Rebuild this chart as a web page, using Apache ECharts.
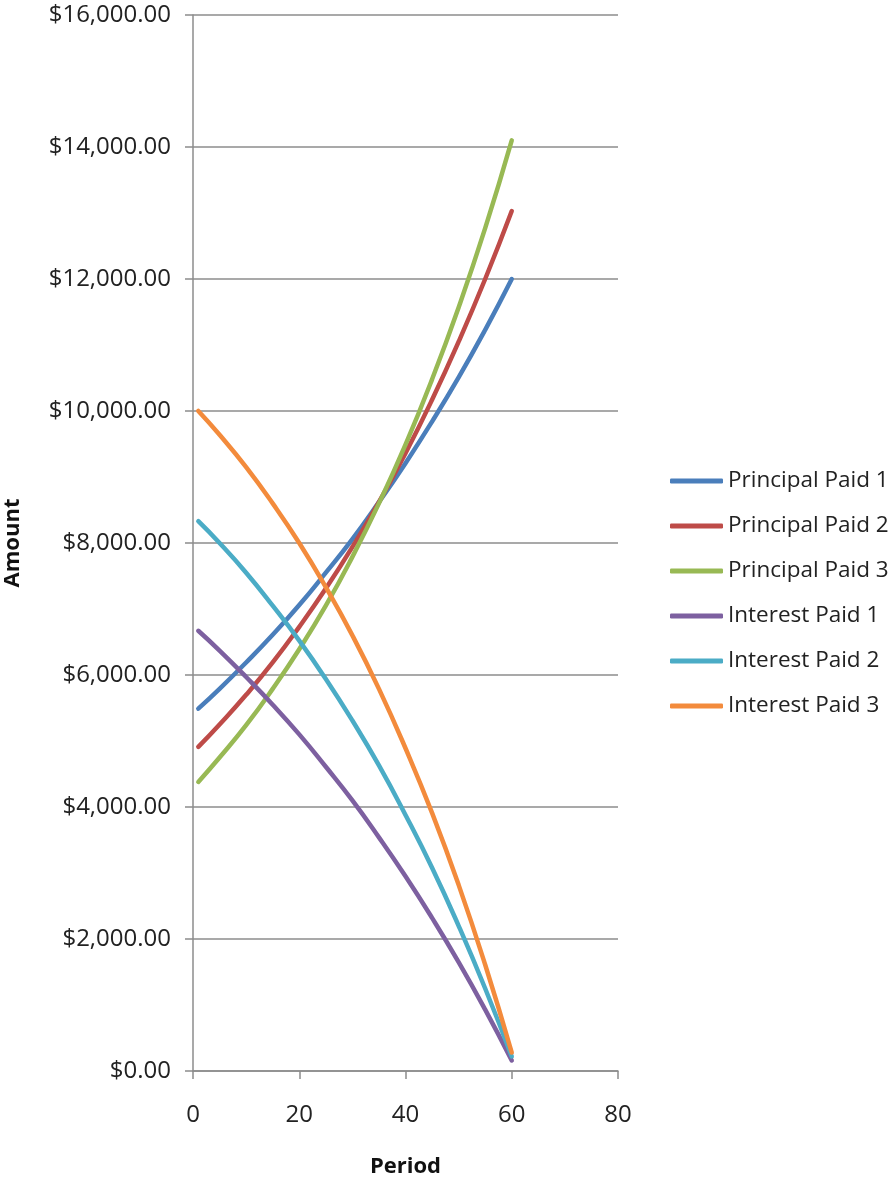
<!DOCTYPE html>
<html>
<head>
<meta charset="utf-8">
<title>Principal and Interest Paid</title>
<script src="https://cdn.jsdelivr.net/npm/echarts@6/dist/echarts.min.js"></script>
<style>
  html, body { margin: 0; padding: 0; background: #fff; }
  #chart { width: 895px; height: 1181px; }
</style>
</head>
<body>
<div id="chart"></div>
<script>
  // periods read from the x axis (values estimated every 5 periods)
  var periods = [1, 5, 10, 15, 20, 25, 30, 35, 40, 45, 50, 55, 60];

  var principalPaid1 = [5490, 5790, 6190, 6610, 7060, 7550, 8060, 8620, 9210, 9840, 10510, 11230, 12000];
  var principalPaid2 = [4910, 5250, 5700, 6190, 6730, 7310, 7940, 8620, 9360, 10170, 11050, 12000, 13030];
  var principalPaid3 = [4380, 4750, 5240, 5790, 6390, 7050, 7790, 8600, 9490, 10480, 11570, 12770, 14100];
  var interestPaid1 = [6670, 6370, 5970, 5550, 5100, 4610, 4100, 3540, 2950, 2320, 1650, 930, 160];
  var interestPaid2 = [8330, 8000, 7550, 7050, 6520, 5940, 5310, 4630, 3880, 3080, 2200, 1250, 220];
  var interestPaid3 = [10000, 9640, 9150, 8600, 8000, 7330, 6600, 5790, 4890, 3910, 2820, 1610, 280];

  var seriesNames = ['Principal Paid 1', 'Principal Paid 2', 'Principal Paid 3',
                     'Interest Paid 1', 'Interest Paid 2', 'Interest Paid 3'];
  var seriesColors = ['#4A7EBB', '#BE4B48', '#98B954', '#7D60A0', '#4BACC6', '#F38B3C'];
  var seriesValues = [principalPaid1, principalPaid2, principalPaid3,
                      interestPaid1, interestPaid2, interestPaid3];

  var fontName = '"Open Sans", "DejaVu Sans", sans-serif';

  function pairs(values) {
    var out = [];
    for (var i = 0; i < periods.length; i++) {
      out.push([periods[i], values[i]]);
    }
    return out;
  }

  var series = [];
  for (var i = 0; i < seriesNames.length; i++) {
    series.push({
      name: seriesNames[i],
      type: 'line',
      data: pairs(seriesValues[i]),
      smooth: true,
      symbol: 'none',
      color: seriesColors[i],
      lineStyle: { width: 4.5, color: seriesColors[i], cap: 'round' },
      animation: false
    });
  }

  var chart = echarts.init(document.getElementById('chart'));
  chart.setOption({
    backgroundColor: '#ffffff',
    textStyle: { fontFamily: fontName },
    grid: { left: 193, top: 15, right: 277, bottom: 110, containLabel: false, outerBoundsMode: 'none' },
    legend: {
      orient: 'vertical',
      left: 670,
      top: 469,
      padding: 0,
      icon: 'roundRect',
      itemWidth: 53,
      itemHeight: 5,
      itemGap: 21,
      textStyle: { fontFamily: fontName, fontSize: 22.5, color: '#222', lineHeight: 24, padding: [0, 0, 0, 0] },
      data: seriesNames
    },
    xAxis: {
      type: 'value',
      min: 0,
      max: 80,
      interval: 20,
      name: 'Period',
      nameLocation: 'middle',
      nameGap: 85,
      nameTextStyle: { fontFamily: fontName, fontSize: 22, fontWeight: 'bold', color: '#111' },
      axisLine: { show: true, lineStyle: { color: '#8c8c8c', width: 1.5 } },
      axisTick: { show: true, length: 8, inside: false, lineStyle: { color: '#8c8c8c', width: 1.5 } },
      axisLabel: { margin: 32, fontSize: 24, color: '#222', fontFamily: fontName },
      splitLine: { show: false }
    },
    yAxis: {
      type: 'value',
      min: 0,
      max: 16000,
      interval: 2000,
      name: 'Amount',
      nameLocation: 'middle',
      nameGap: 169,
      nameRotate: 90,
      nameTextStyle: { fontFamily: fontName, fontSize: 22, fontWeight: 'bold', color: '#111' },
      axisLine: { show: true, lineStyle: { color: '#8c8c8c', width: 1.5 } },
      axisTick: { show: true, length: 8, inside: false, lineStyle: { color: '#8c8c8c', width: 1.5 } },
      axisLabel: {
        margin: 22,
        fontSize: 24,
        color: '#222',
        fontFamily: fontName,
        formatter: function (v) {
          return '$' + v.toLocaleString('en-US', { minimumFractionDigits: 2, maximumFractionDigits: 2 });
        }
      },
      splitLine: { show: true, lineStyle: { color: '#8c8c8c', width: 1.5 } }
    },
    series: series
  });
</script>
</body>
</html>
